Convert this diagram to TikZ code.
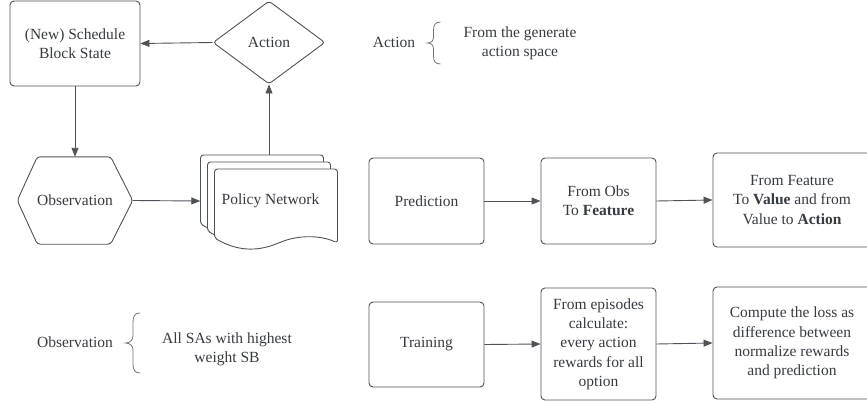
\documentclass[tikz,border=0pt]{standalone}
\usepackage{fontspec}
\setmainfont{Liberation Serif}
\usetikzlibrary{shapes.geometric,arrows.meta}
\definecolor{lc}{HTML}{4E535A}
\definecolor{tc}{HTML}{363B42}
\tikzset{
  box/.style={draw=lc, line width=0.9pt, rounded corners=4pt, fill=white, align=center, text=tc, inner sep=0pt},
  plain/.style={align=center, text=tc, inner sep=0pt},
  arr/.style={draw=lc, line width=0.9pt, -{Triangle[length=9pt,width=7pt]}},
  sheet/.style={draw=lc, line width=0.9pt, fill=white, rounded corners=3pt},
  brc/.style={draw=lc!80, line width=0.8pt}
}
\begin{document}
\begin{tikzpicture}[x=1pt,y=-1pt,font=\fontsize{15.5}{19.3}\selectfont]
\useasboundingbox (0,0) rectangle (867,404);
\clip (0,0) rectangle (867,404);
% top-left loop
\node[box, minimum width=130pt, minimum height=85pt] (sb) at (75,43.5) {(New) Schedule\\Block State};
\node[diamond, draw=lc, line width=0.9pt, rounded corners=3pt, text=tc, inner sep=0pt, minimum width=112pt, minimum height=83pt] (act) at (269,42.5) {Action};
\node[plain, minimum width=115pt, minimum height=87pt] (obs) at (75,200.5) {Observation};
\draw[draw=lc, line width=0.9pt, rounded corners=3pt] (obs.west) -- ([xshift=20pt]obs.north west) -- ([xshift=-22pt]obs.north east) -- (obs.east) -- ([xshift=-22pt]obs.south east) -- ([xshift=20pt]obs.south west) -- cycle;
% policy network stacked documents
\foreach \d in {0,7,14} {
  \draw[sheet, shift={(200.5+\d,155+\d)}] (0,69) -- (0,0) -- (123,0) -- (123,74)
    .. controls (106,66) and (84,66) .. (64,74)
    .. controls (46,81) and (26,84) .. (0,69) -- cycle;
}
\node[plain, minimum width=137pt, minimum height=92pt] (pol) at (269,201) {\hspace*{3pt}Policy Network};
\draw[arr] (act.west) -- (sb.east);
\draw[arr] (sb.south) -- (obs.north);
\draw[arr] (obs.east) -- (pol.west);
\draw[arr] (pol.north) -- (act.south);
% legend: action
\node[plain] (actlbl) at (394,42) {Action};
\draw[brc] (440.5,22) .. controls (435,22) and (433.5,25) .. (433.5,31) -- (433.5,37) .. controls (433.5,41) and (431,43) .. (427.5,43) .. controls (431,43) and (433.5,45) .. (433.5,49) -- (433.5,56) .. controls (433.5,61) and (435,64) .. (440.5,64);
\node[plain] (actdesc) at (520,43) {From the generate\\action space};
% legend: observation
\node[plain] (obslbl) at (75,342) {Observation};
\draw[brc] (140,313) .. controls (135,313) and (133,316) .. (133,322) -- (133,336) .. controls (133,340) and (130,343) .. (125.5,343) .. controls (130,343) and (133,346) .. (133,350) -- (133,364) .. controls (133,370) and (135,373) .. (140,373);
\node[plain] (obsdesc) at (227,349) {All SAs with highest\\weight SB};
% prediction row
\node[box, minimum width=115pt, minimum height=86pt] (pred) at (426.5,201) {Prediction};
\node[box, minimum width=115pt, minimum height=86pt] (feat) at (598.5,201) {From Obs\\To \textbf{Feature}};
\node[box, minimum width=158pt, minimum height=94pt] (val) at (792,200) {From Feature\\To \textbf{Value} and from\\Value to \textbf{Action}};
\draw[arr] (pred.east) -- (feat.west);
\draw[arr] (feat.east) -- (val.west);
% training row
\node[box, minimum width=115pt, minimum height=85pt] (train) at (426.5,344.5) {Training};
\node[box, minimum width=115pt, minimum height=112pt] (epi) at (598.5,344) {From episodes\\calculate:\\every action\\rewards for all\\option};
\node[box, minimum width=158pt, minimum height=112pt] (loss) at (792,343) {Compute the loss as\\difference between\\normalize rewards\\and prediction};
\draw[arr] (train.east) -- (epi.west);
\draw[arr] (epi.east) -- (loss.west);
\end{tikzpicture}
\end{document}
